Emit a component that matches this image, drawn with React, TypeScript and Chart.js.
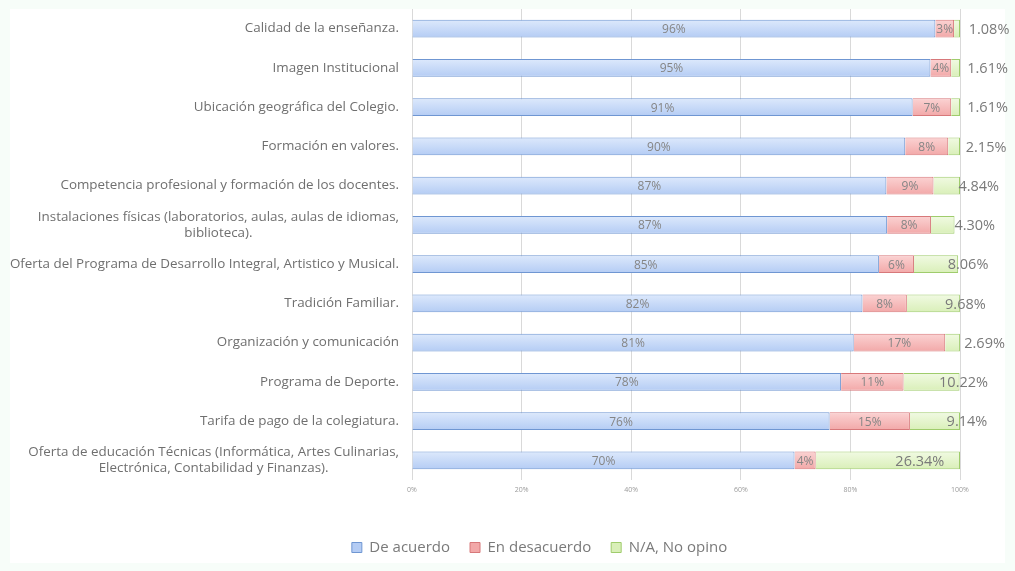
import React, { useEffect, useRef } from "react";
import { Chart, registerables } from "chart.js";

Chart.register(...registerables);

const categories = [
  "Calidad de la enseñanza.",
  "Imagen Institucional",
  "Ubicación geográfica del Colegio.",
  "Formación en valores.",
  "Competencia profesional y formación de los docentes.",
  "Instalaciones físicas (laboratorios, aulas, aulas de idiomas,\nbiblioteca).",
  "Oferta del Programa de Desarrollo Integral, Artistico y Musical.",
  "Tradición Familiar.",
  "Organización y comunicación",
  "Programa de Deporte.",
  "Tarifa de pago de la colegiatura.",
  "Oferta de educación Técnicas (Informática, Artes Culinarias,\nElectrónica, Contabilidad y Finanzas).",
];

const deAcuerdo = [95.5, 94.6, 91.35, 90.0, 86.56, 86.7, 85.2, 82.2, 80.6, 78.3, 76.2, 69.8];
const enDesacuerdo = [3.42, 3.79, 7.04, 7.85, 8.6, 8.0, 6.4, 8.1, 16.7, 11.4, 14.66, 3.86];
const noOpino = [1.08, 1.61, 1.61, 2.15, 4.84, 4.3, 8.06, 9.68, 2.69, 10.22, 9.14, 26.34];

const seriesNames = ["De acuerdo", "En desacuerdo", "N/A, No opino"];
const xTickValues = [0, 20, 40, 60, 80, 100];

const FONT = "'Open Sans', 'Liberation Sans', sans-serif";

function gradientFill(top: string, bottom: string, flat: string) {
  return (ctx: any) => {
    const chart = ctx.chart;
    const y = chart.scales && chart.scales.y;
    if (!y || ctx.dataIndex === undefined || ctx.type !== "data") return flat;
    const yc = y.getPixelForValue(ctx.dataIndex);
    if (!isFinite(yc)) return flat;
    const g = chart.ctx.createLinearGradient(0, yc - 9, 0, yc + 9);
    g.addColorStop(0, top);
    g.addColorStop(1, bottom);
    return g;
  };
}

export default function App() {
  const ref = useRef<HTMLCanvasElement | null>(null);

  useEffect(() => {
    document.body.style.margin = "0";
    const canvas = ref.current;
    if (!canvas) return;

    const bgPlugin = {
      id: "bgPlugin",
      beforeDraw(chart: any) {
        const c = chart.ctx;
        c.save();
        c.fillStyle = "#f7fdf9";
        c.fillRect(0, 0, chart.width, chart.height);
        c.fillStyle = "#ffffff";
        c.fillRect(10, 9, chart.width - 20, chart.height - 17);
        c.restore();
      },
    };

    const yLabelPlugin = {
      id: "yLabelPlugin",
      afterDraw(chart: any) {
        const c = chart.ctx;
        const y = chart.scales.y;
        c.save();
        c.font = `13.4px ${FONT}`;
        c.fillStyle = "#6f6f6f";
        c.textAlign = "center";
        c.textBaseline = "middle";
        const right = 399;
        const lh = 16;
        categories.forEach((label, i) => {
          const lines = label.split("\n");
          const maxW = Math.max(...lines.map((l) => c.measureText(l).width));
          const cx = right - maxW / 2;
          const yc = y.getPixelForValue(i);
          const start = yc - ((lines.length - 1) * lh) / 2;
          lines.forEach((l, j) => c.fillText(l, cx, start + j * lh));
        });
        c.restore();
      },
    };

    const valueLabelPlugin = {
      id: "valueLabelPlugin",
      afterDatasetsDraw(chart: any) {
        const c = chart.ctx;
        c.save();
        c.textBaseline = "middle";
        c.textAlign = "center";
        chart.data.datasets.forEach((ds: any, di: number) => {
          const meta = chart.getDatasetMeta(di);
          meta.data.forEach((el: any, i: number) => {
            const { x, base, y } = el.getProps(["x", "base", "y"], true);
            const v = ds.data[i];
            const cx = (x + base) / 2;
            if (di < 2) {
              c.font = `12px ${FONT}`;
              c.fillStyle = "#858585";
              c.fillText(Math.round(v) + "%", cx, y + 1);
            } else {
              c.font = `14.5px ${FONT}`;
              c.fillStyle = "#7a7a7a";
              c.fillText(v.toFixed(2) + "%", cx + 32, y + 1);
            }
          });
        });
        c.restore();
      },
    };

    const chart = new Chart(canvas, {
      type: "bar",
      data: {
        labels: categories,
        datasets: [
          {
            label: seriesNames[0],
            data: deAcuerdo,
            backgroundColor: gradientFill("#dde9fc", "#b4ccf4", "#c5d9f7"),
            borderColor: "#6f96d2",
            borderWidth: 1,
          },
          {
            label: seriesNames[1],
            data: enDesacuerdo,
            backgroundColor: gradientFill("#fbd3d3", "#f2a8a8", "#f6bcbc"),
            borderColor: "#d7787a",
            borderWidth: 1,
          },
          {
            label: seriesNames[2],
            data: noOpino,
            backgroundColor: gradientFill("#f1fae3", "#d9efb8", "#e4f5cc"),
            borderColor: "#9fcc6c",
            borderWidth: 1,
          },
        ],
      },
      plugins: [bgPlugin, yLabelPlugin, valueLabelPlugin],
      options: {
        animation: false,
        responsive: false,
        maintainAspectRatio: false,
        indexAxis: "y",
        layout: { padding: { top: 9, right: 55, bottom: 6, left: 119 } },
        datasets: {
          bar: { barPercentage: 0.45, categoryPercentage: 1 },
        },
        scales: {
          x: {
            stacked: true,
            min: 0,
            max: 100,
            afterBuildTicks(scale: any) {
              scale.ticks = xTickValues.map((v) => ({ value: v }));
            },
            afterFit(scale: any) {
              scale.height = 40;
            },
            ticks: {
              callback: (v: any) => v + "%",
              font: { size: 7, family: FONT },
              color: "#9a9a9a",
              padding: 6,
            },
            grid: { color: "#d9d9d9", drawTicks: false },
            border: { display: false },
          },
          y: {
            stacked: true,
            ticks: { display: false },
            grid: { display: false },
            border: { display: false },
            afterFit(scale: any) {
              scale.width = 293;
            },
          },
        },
        plugins: {
          legend: {
            position: "bottom",
            labels: {
              boxWidth: 10,
              boxHeight: 10,
              padding: 20,
              color: "#7a7a7a",
              font: { size: 15, family: FONT },
            },
          },
          tooltip: { enabled: false },
        },
      },
    } as any);

    return () => chart.destroy();
  }, []);

  return (
    <div style={{ width: 1015, height: 571 }}>
      <canvas ref={ref} width={1015} height={571} style={{ width: 1015, height: 571 }} />
    </div>
  );
}
